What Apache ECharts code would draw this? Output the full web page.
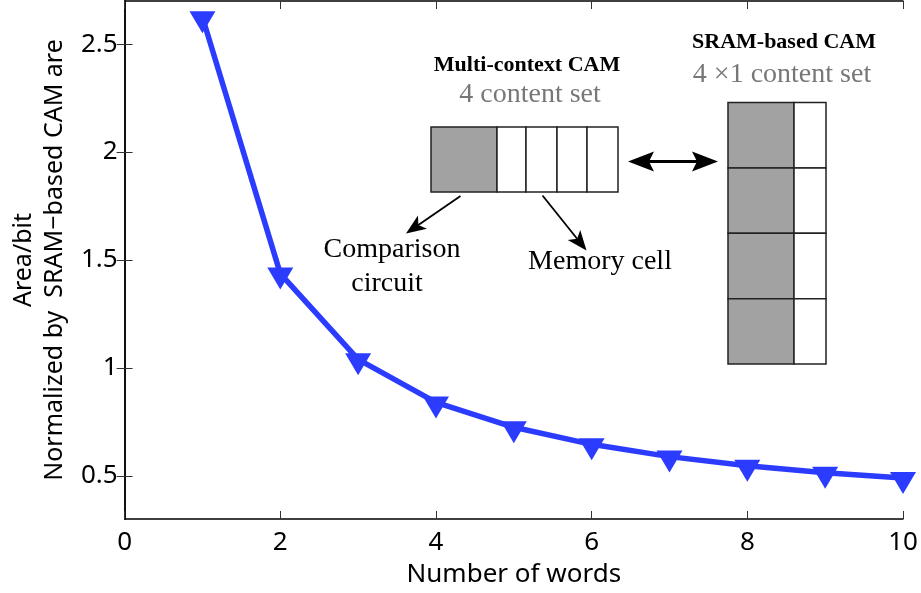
<!DOCTYPE html>
<html>
<head>
<meta charset="utf-8">
<script src="https://cdn.jsdelivr.net/npm/echarts@6/dist/echarts.min.js"></script>
<style>
  html, body { margin: 0; padding: 0; background: #fff; }
  #main { width: 921px; height: 593px; }
</style>
</head>
<body>
<div id="main"></div>
<script>
var words = [1, 2, 3, 4, 5, 6, 7, 8, 9, 10];
var areaPerBit = [2.625, 1.437, 1.04, 0.84, 0.725, 0.646, 0.589, 0.547, 0.514, 0.49];
var yTicks = [0.5, 1, 1.5, 2, 2.5];

var blue = "#2b3cff";
var sans = "Noto Sans";
var serif = "Liberation Serif";

var dom = document.getElementById("main");
var myChart = echarts.init(dom);

// arrow: shaft + concave head, from (x1,y1) to tip (x2,y2)
function arrow(x1, y1, x2, y2, len, half, lw) {
    var dx = x2 - x1, dy = y2 - y1;
    var d = Math.sqrt(dx * dx + dy * dy);
    var ux = dx / d, uy = dy / d;
    var px = -uy, py = ux;
    var bx = x2 - ux * len, by = y2 - uy * len;
    var nx = x2 - ux * len * 0.75, ny = y2 - uy * len * 0.75;
    return [
        { type: "line", shape: { x1: x1, y1: y1, x2: nx, y2: ny }, style: { stroke: "#000", lineWidth: lw } },
        { type: "polygon", shape: { points: [[x2, y2], [bx + px * half, by + py * half], [nx, ny], [bx - px * half, by - py * half]] }, style: { fill: "#000" } }
    ];
}

function txt(s, x, y, size, color, weight) {
    return {
        type: "text",
        style: {
            text: s, x: x, y: y, fill: color,
            fontFamily: serif, fontSize: size, fontWeight: weight || "normal",
            align: "center", verticalAlign: "middle"
        }
    };
}

function cell(x, y, w, h, fill) {
    return {
        type: "rect",
        shape: { x: x, y: y, width: w, height: h },
        style: { fill: fill, stroke: "#222", lineWidth: 1.5 }
    };
}

var gray = "#a2a2a2";
var inset = [];
// multi-context CAM row
inset.push(cell(431, 127, 66, 65, gray));
inset.push(cell(497, 127, 29, 65, "#fff"));
inset.push(cell(526, 127, 31, 65, "#fff"));
inset.push(cell(557, 127, 30, 65, "#fff"));
inset.push(cell(587, 127, 31, 65, "#fff"));
// SRAM-based grid
for (var r = 0; r < 4; r++) {
    inset.push(cell(728, 102.5 + r * 65.4, 66, 65.4, gray));
    inset.push(cell(794, 102.5 + r * 65.4, 32, 65.4, "#fff"));
}
// double arrow
inset.push({ type: "line", shape: { x1: 645, y1: 161.5, x2: 701, y2: 161.5 }, style: { stroke: "#000", lineWidth: 3 } });
inset.push({ type: "polygon", shape: { points: [[628, 161.5], [654, 151.5], [649, 161.5], [654, 171.5]] }, style: { fill: "#000" } });
inset.push({ type: "polygon", shape: { points: [[718, 161.5], [692, 151.5], [697, 161.5], [692, 171.5]] }, style: { fill: "#000" } });
inset = inset.concat(arrow(460.5, 196, 406, 233.5, 20, 8, 1.8));
inset = inset.concat(arrow(542.5, 195.5, 586.5, 250.5, 20, 8, 1.8));
// labels
inset.push(txt("Multi-context CAM", 527, 65, 22, "#000", "bold"));
inset.push(txt("4 content set", 530, 95, 28, "#777"));
inset.push(txt("SRAM-based CAM", 784, 42, 22, "#000", "bold"));
inset.push(txt("4 \u00d71 content set", 782, 75, 28, "#777"));
inset.push(txt("Comparison", 392, 250, 28, "#000"));
inset.push(txt("circuit", 387, 284, 28, "#000"));
inset.push(txt("Memory cell", 600, 262, 28, "#000"));

option = {
    backgroundColor: "#fff",
    animation: false,
    grid: { left: 123, right: 18, top: 1, bottom: 74 },
    xAxis: [{
        type: "value",
        min: 0, max: 10, interval: 2,
        name: "Number of words",
        nameLocation: "middle",
        nameGap: 43,
        nameTextStyle: { fontFamily: sans, fontSize: 26, color: "#000" },
        axisLine: { lineStyle: { color: "#000", width: 1.5 } },
        axisTick: { inside: true, length: 8, lineStyle: { color: "#333", width: 1 } },
        axisLabel: { fontFamily: sans, fontSize: 26, color: "#000", margin: 11 },
        splitLine: { show: false }
    }, {
        type: "value",
        position: "top",
        min: 0, max: 10, interval: 2,
        axisLine: { lineStyle: { color: "#000", width: 1.5 } },
        axisTick: { inside: true, length: 8, lineStyle: { color: "#333", width: 1 } },
        axisLabel: { show: false },
        splitLine: { show: false }
    }],
    yAxis: [{
        type: "value",
        min: 0.3, max: 2.7,
        name: "Area/bit\nNormalized by  SRAM\u2212based CAM are",
        nameLocation: "middle",
        nameGap: 50,
        nameRotate: 90,
        nameTextStyle: { fontFamily: sans, fontSize: 25, color: "#000", lineHeight: 31 },
        axisLine: { lineStyle: { color: "#000", width: 1.5 } },
        axisTick: { inside: true, length: 8, customValues: yTicks, lineStyle: { color: "#333", width: 1 } },
        axisLabel: { fontFamily: sans, fontSize: 26, color: "#000", margin: 7, customValues: yTicks },
        splitLine: { show: false }
    }, {
        type: "value",
        position: "right",
        min: 0.3, max: 2.7,
        axisLine: { lineStyle: { color: "#000", width: 1.5 } },
        axisTick: { inside: true, length: 8, customValues: yTicks, lineStyle: { color: "#333", width: 1 } },
        axisLabel: { show: false, customValues: yTicks },
        splitLine: { show: false }
    }],
    series: [{
        type: "line",
        data: words.map(function (w, i) { return [w, areaPerBit[i]]; }),
        symbol: "path://M0,0 L26,0 L13,22 Z",
        symbolSize: [26, 22],
        symbolOffset: [0, 5],
        lineStyle: { color: blue, width: 5.5 },
        itemStyle: { color: blue },
        z: 3
    }],
    graphic: inset
};

if (option && typeof option === "object") {
    myChart.setOption(option, true);
}
</script>
</body>
</html>
